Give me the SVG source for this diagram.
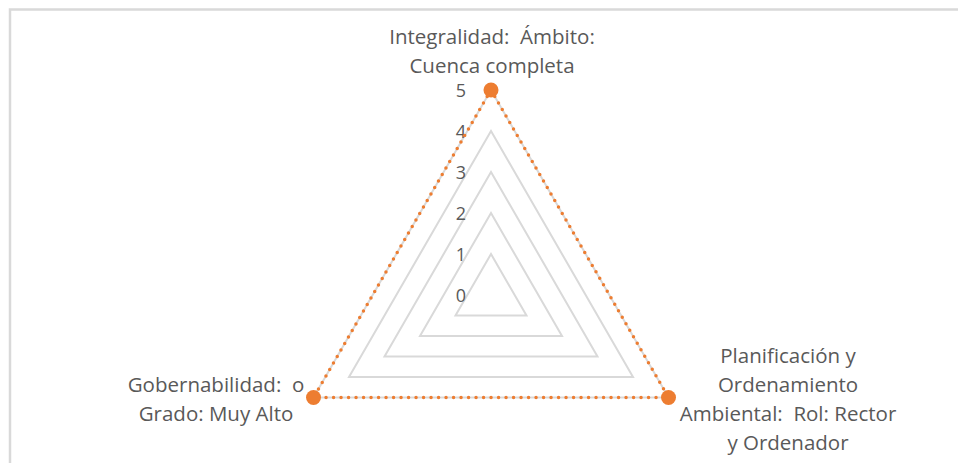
<svg xmlns="http://www.w3.org/2000/svg" width="958" height="463" viewBox="0 0 958 463">
<style>
.grid{fill:none;stroke:#d9d9d9;stroke-width:2}
.tick{font-family:"Open Sans","Liberation Sans",sans-serif;font-size:18px;fill:#595959;text-anchor:middle}
.lbl{font-family:"Open Sans","Liberation Sans",sans-serif;font-size:20.5px;fill:#595959;text-anchor:middle;white-space:pre}
.series{fill:none;stroke:#ed7d31;stroke-width:3.5;stroke-linecap:round;stroke-dasharray:0 7.5}
.mk{fill:#ed7d31}
</style>
<rect x="0" y="0" width="958" height="463" fill="#fff"/>
<path d="M10 463 V9.5 H958" fill="none" stroke="#d9d9d9" stroke-width="2.5"/>
<g id="grid">
<polygon class="grid" points="491,254 526.5,315.5 455.5,315.5"/>
<polygon class="grid" points="491,213 562,336 420,336"/>
<polygon class="grid" points="491,172 597.5,356.5 384.5,356.5"/>
<polygon class="grid" points="491,131 633,377 349,377"/>
<polygon class="grid" points="491,90 668.5,397.5 313.5,397.5"/>
</g>
<g id="ticks">
<text class="tick" x="461" y="302">0</text>
<text class="tick" x="461" y="261">1</text>
<text class="tick" x="461" y="220">2</text>
<text class="tick" x="461" y="179">3</text>
<text class="tick" x="461" y="138">4</text>
<text class="tick" x="461" y="97">5</text>
</g>
<g id="connectors">
<polygon class="series" points="491,90 668.5,397.5 313.5,397.5"/>
</g>
<g id="node-integralidad">
<circle class="mk" cx="491" cy="90" r="7.5"/>
<text class="lbl" x="492" y="44" xml:space="preserve">Integralidad:  Ámbito:</text>
<text class="lbl" x="492" y="73">Cuenca completa</text>
</g>
<g id="node-planificacion">
<circle class="mk" cx="668.5" cy="397.5" r="7.5"/>
<text class="lbl" x="788" y="363">Planificación y</text>
<text class="lbl" x="788" y="392">Ordenamiento</text>
<text class="lbl" x="788" y="421" xml:space="preserve">Ambiental:  Rol: Rector</text>
<text class="lbl" x="788" y="450">y Ordenador</text>
</g>
<g id="node-gobernabilidad">
<circle class="mk" cx="313.5" cy="397.5" r="7.5"/>
<text class="lbl" x="216" y="392" xml:space="preserve">Gobernabilidad:  o</text>
<text class="lbl" x="216" y="421">Grado: Muy Alto</text>
</g>
</svg>
